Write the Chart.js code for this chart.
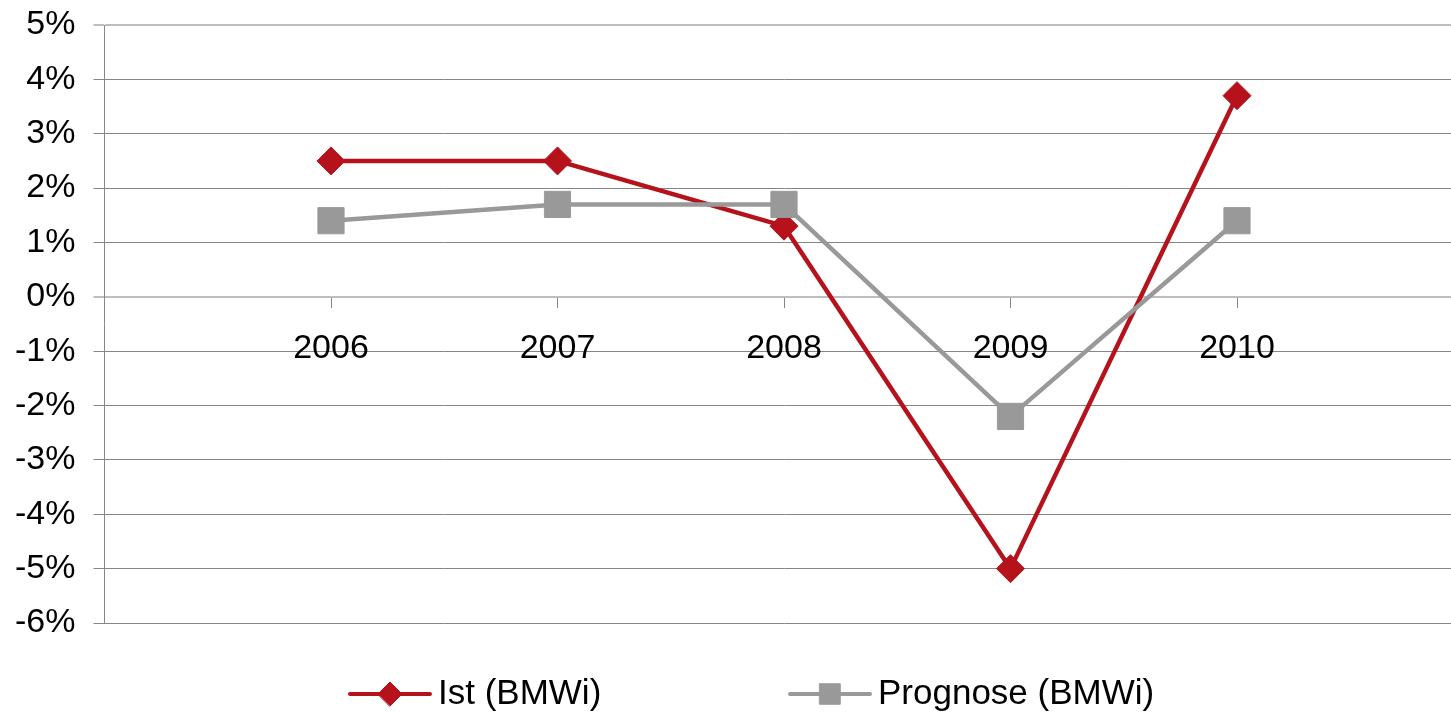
<!DOCTYPE html>
<html>
<head>
<meta charset="utf-8">
<script src="https://cdn.jsdelivr.net/npm/chart.js@4/dist/chart.umd.min.js"></script>
<style>
html,body{margin:0;padding:0;overflow:hidden;background:#fff;}
canvas{display:block;}
</style>
</head>
<body>
<canvas id="c" width="1483" height="712" style="width:1483px;height:712px"></canvas>
<script>
const years = [2006, 2007, 2008, 2009, 2010];
const istValues = [2.5, 2.5, 1.3, -5.0, 3.7];
const prognoseValues = [1.4, 1.7, 1.7, -2.2, 1.4];
const yTicks = [5, 4, 3, 2, 1, 0, -1, -2, -3, -4, -5, -6];
const seriesNames = ['Ist (BMWi)', 'Prognose (BMWi)'];

const FONT = 'Liberation Sans, Arial, sans-serif';
const RED = '#B5121B';
const GRAY = '#999999';

const legendPlugin = {
  id: 'lineLegend',
  afterDraw(chart) {
    const ctx = chart.ctx;
    const y = 694;
    const starts = [350, 790];
    chart.data.datasets.forEach((ds, i) => {
      const x0 = starts[i];
      ctx.save();
      ctx.strokeStyle = ds.borderColor;
      ctx.lineWidth = 4;
      ctx.lineCap = 'round';
      ctx.beginPath();
      ctx.moveTo(x0, y);
      ctx.lineTo(x0 + 80, y);
      ctx.stroke();
      ctx.fillStyle = ds.pointBackgroundColor;
      ctx.strokeStyle = ds.pointBorderColor;
      ctx.lineWidth = 1;
      Chart.helpers.drawPoint(ctx, {pointStyle: ds.pointStyle, radius: ds.legendRadius, rotation: 0, borderWidth: 1}, x0 + 40, y);
      ctx.fillStyle = '#000';
      ctx.font = '35px ' + FONT;
      ctx.textBaseline = 'middle';
      ctx.textAlign = 'left';
      ctx.fillText(ds.label, x0 + 88, y);
      ctx.restore();
    });
  }
};

const isLight = ctx => ctx.tick && (ctx.tick.value === 5 || ctx.tick.value === 0);

new Chart(document.getElementById('c'), {
  type: 'line',
  data: {
    datasets: [
      {
        label: seriesNames[0],
        data: years.map((x, i) => ({x: x, y: istValues[i]})),
        borderColor: RED,
        backgroundColor: RED,
        pointBackgroundColor: RED,
        pointBorderColor: RED,
        borderWidth: 4.5,
        pointStyle: 'rectRot',
        pointRadius: 14,
        pointBorderWidth: 1,
        legendRadius: 12,
        tension: 0,
        order: 2
      },
      {
        label: seriesNames[1],
        data: years.map((x, i) => ({x: x, y: prognoseValues[i]})),
        borderColor: GRAY,
        backgroundColor: GRAY,
        pointBackgroundColor: GRAY,
        pointBorderColor: GRAY,
        borderWidth: 4.5,
        pointStyle: 'rect',
        pointRadius: 18.5,
        pointBorderWidth: 1,
        legendRadius: 14.5,
        tension: 0,
        order: 1
      }
    ]
  },
  options: {
    responsive: false,
    maintainAspectRatio: false,
    animation: false,
    devicePixelRatio: 1,
    layout: {padding: {left: 15, right: 0, top: 25, bottom: 89}},
    plugins: {legend: {display: false}, tooltip: {enabled: false}},
    elements: {line: {borderJoinStyle: 'round'}},
    scales: {
      x: {
        type: 'linear',
        position: {y: 0},
        min: years[0] - 1,
        max: years[years.length - 1] + 1,
        afterBuildTicks(scale) { scale.ticks = years.map(v => ({value: v})); },
        afterFit(scale) { scale.paddingLeft = 0; scale.paddingRight = 0; scale.paddingTop = 0; scale.paddingBottom = 0; },
        ticks: {
          font: {family: FONT, size: 34},
          color: '#000',
          padding: 21,
          maxRotation: 0,
          autoSkip: false,
          callback: v => String(v)
        },
        grid: {drawOnChartArea: false, drawTicks: true, tickLength: 10, tickColor: '#868686', tickWidth: 1},
        border: {display: true, color: '#BEBEBE', width: 2}
      },
      y: {
        type: 'linear',
        min: -6,
        max: 5,
        afterBuildTicks(scale) { scale.ticks = yTicks.map(v => ({value: v})); },
        afterFit(scale) { scale.paddingTop = 0; scale.paddingBottom = 0; scale.width = 89.5; },
        ticks: {
          font: {family: FONT, size: 34},
          color: '#000',
          padding: 18,
          callback: v => v + '%'
        },
        grid: {
          color: ctx => isLight(ctx) ? '#BEBEBE' : '#868686',
          lineWidth: ctx => isLight(ctx) ? 2 : 1,
          tickLength: 11,
          tickColor: ctx => isLight(ctx) ? '#BEBEBE' : '#868686'
        },
        border: {display: true, color: '#868686', width: 1}
      }
    }
  },
  plugins: [legendPlugin]
});
</script>
</body>
</html>
